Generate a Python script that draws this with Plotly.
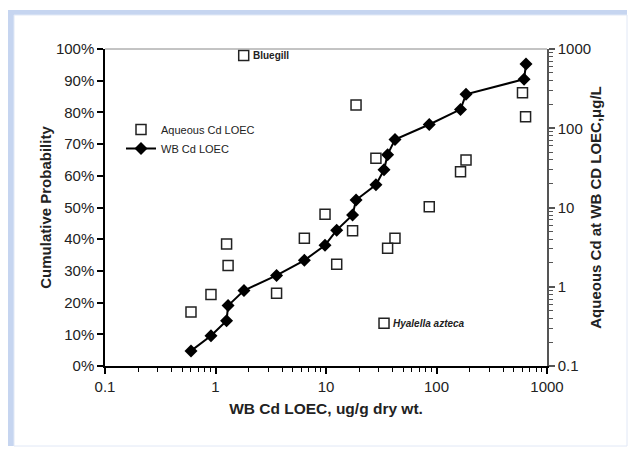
import math
import plotly.graph_objects as go

# ---- data ----
wb_loec = [0.60, 0.91, 1.26, 1.30, 1.81, 3.57, 6.37, 9.8, 12.5, 17.4,
           18.7, 28.3, 33.5, 36.1, 42.1, 86, 165, 185, 620, 646]
cum_prob = [4.76, 9.52, 14.29, 19.05, 23.81, 28.57, 33.33, 38.10, 42.86, 47.62,
            52.38, 57.14, 61.90, 66.67, 71.43, 76.19, 80.95, 85.71, 90.48, 95.24]
aq_wb_x = [0.60, 0.91, 1.26, 1.30, 1.80, 3.57, 6.37, 9.8, 12.5, 17.4,
           18.7, 28.3, 33.5, 36.1, 42.1, 86, 165, 185, 600, 640]
aq_loec = [0.48, 0.80, 3.46, 1.85, 830, 0.83, 4.08, 8.2, 1.92, 5.1,
           196, 41.8, 0.346, 3.06, 4.08, 10.2, 28.3, 39.7, 281, 140]
label_text = ["Bluegill", "<i>Hyalella azteca</i>"]
label_idx = [4, 12]

x_ticks = [0.1, 1, 10, 100, 1000]
x_tick_text = ["0.1", "1", "10", "100", "1000"]
y_ticks = [0, 10, 20, 30, 40, 50, 60, 70, 80, 90, 100]
y_tick_text = [f"{v}%" for v in y_ticks]
y2_ticks = [0.1, 1, 10, 100, 1000]
y2_tick_text = ["0.1", "1", "10", "100", "1000"]

W, H = 630, 449
L, R, T, B = 105, 547, 49, 366


def px(xp):
    return (xp - L) / (R - L)


def py(yp):
    return (B - yp) / (B - T)


FONT = "Liberation Sans, Arial, sans-serif"

fig = go.Figure()
fig.add_trace(go.Scatter(
    x=aq_wb_x, y=aq_loec, yaxis="y2", mode="markers", name="Aqueous Cd LOEC",
    marker=dict(symbol="square-open", size=10, color="#222", line=dict(width=1.5)),
))
fig.add_trace(go.Scatter(
    x=wb_loec, y=cum_prob, mode="lines+markers", name="WB Cd LOEC",
    line=dict(color="black", width=2),
    marker=dict(symbol="diamond", size=10, color="black"),
))

annotations = []
for txt, i in zip(label_text, label_idx):
    annotations.append(dict(
        x=math.log10(aq_wb_x[i]), y=math.log10(aq_loec[i]), xref="x", yref="y2",
        text=f"<b>{txt}</b>", showarrow=False, xanchor="left", yanchor="middle",
        xshift=7, font=dict(family=FONT, size=10, color="#222"),
    ))

shapes = [
    # blue frame (top and left bands), faint edges on right and bottom
    dict(type="rect", xref="paper", yref="paper", x0=px(8), x1=px(627), y0=py(10), y1=py(446),
         fillcolor="#c6d5f0", line=dict(width=0), layer="below"),
    dict(type="rect", xref="paper", yref="paper", x0=px(14), x1=px(627), y0=py(15), y1=py(446),
         fillcolor="white", line=dict(color="#e1e8f6", width=1), layer="below"),
    # top border of plot area
    dict(type="line", xref="paper", yref="paper", x0=0, x1=1, y0=1, y1=1,
         line=dict(color="#888", width=1)),
]

fig.update_layout(
    width=W, height=H,
    margin=dict(l=L, r=W - R, t=T, b=H - B),
    paper_bgcolor="white", plot_bgcolor="white",
    font=dict(family=FONT, size=15, color="#222"),
    showlegend=True,
    legend=dict(x=px(121), y=py(115), xanchor="left", yanchor="top",
                bgcolor="rgba(0,0,0,0)", font=dict(size=11, family=FONT),
                itemwidth=30, tracegroupgap=0),
    xaxis=dict(type="log", range=[-1, 3], tickvals=x_ticks, ticktext=x_tick_text,
               showgrid=False, zeroline=False, showline=True, linecolor="black", linewidth=1.5,
               ticks="outside", ticklen=6, tickwidth=1.5, tickcolor="black",
               minor=dict(ticks="outside", ticklen=4, tickwidth=1, tickcolor="black", dtick="D1"),
               title=dict(text="<b>WB Cd LOEC, ug/g dry wt.</b>", font=dict(size=15.5), standoff=9)),
    yaxis=dict(range=[0, 100], tickvals=y_ticks, ticktext=y_tick_text,
               showgrid=False, zeroline=False, showline=True, linecolor="black", linewidth=1.5,
               ticks="outside", ticklen=6, tickwidth=1.5, tickcolor="black",
               title=dict(text="<b>Cumulative Probability</b>", font=dict(size=15), standoff=1)),
    yaxis2=dict(type="log", range=[-1, 3], overlaying="y", side="right",
                tickvals=y2_ticks, ticktext=y2_tick_text,
                showgrid=False, zeroline=False, showline=True, linecolor="#555", linewidth=1.5,
                ticks="outside", ticklen=6, tickwidth=1.5, tickcolor="#555",
                minor=dict(ticks="outside", ticklen=4, tickwidth=1, tickcolor="#555", dtick="D1"),
                title=dict(text="<b>Aqueous Cd at WB CD LOEC,μg/L</b>", font=dict(size=15), standoff=0)),
    annotations=annotations,
    shapes=shapes,
)

fig.write_html("out.html", config={"displayModeBar": False},
               post_script="document.body.style.margin='0';")
